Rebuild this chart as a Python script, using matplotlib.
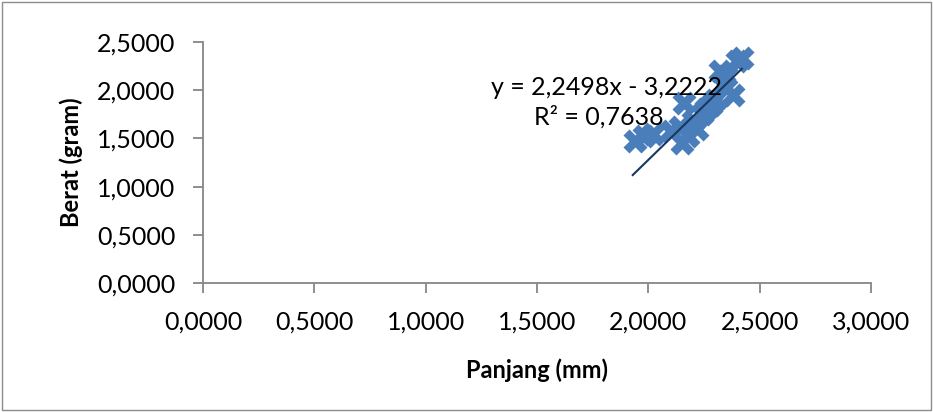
import numpy as np
import matplotlib.pyplot as plt
from matplotlib.ticker import FuncFormatter
from matplotlib.patches import Rectangle

plt.rcParams['font.family'] = ['Lato', 'DejaVu Sans']

# Data
panjang = [1.94, 1.98, 2.02, 2.10, 2.14, 2.15, 2.16, 2.18, 2.20, 2.22,
           2.24, 2.26, 2.28, 2.30, 2.32, 2.34, 2.35, 2.38, 2.40, 2.42]
berat = [1.47, 1.52, 1.55, 1.58, 1.62, 1.45, 1.87, 1.52, 1.68, 1.60,
         1.75, 1.80, 1.85, 1.90, 2.20, 2.05, 2.15, 1.95, 2.30, 2.33]
slope, intercept = 2.2498, -3.2222
r2 = 0.7638

fig = plt.figure(figsize=(9.33, 4.12), dpi=100)
fig.patches.append(Rectangle((0.002, 0.005), 0.996, 0.99, transform=fig.transFigure,
                             fill=False, edgecolor='#8c8c8c', linewidth=1))
ax = fig.add_axes([203/933, 1-283/412, 668/933, 241/412])

ax.scatter(panjang, berat, marker='X', s=300, color='#4a7ebb', linewidths=0, zorder=2)
xl = np.array([min(panjang) - 0.01, max(panjang)])
ax.plot(xl, slope*xl + intercept, color='#17375e', linewidth=1.5, zorder=3)

fmt = FuncFormatter(lambda v, p: f"{v:.4f}".replace('.', ','))
ax.set_xlim(0, 3)
ax.set_ylim(0, 2.5)
ax.set_xticks(np.arange(0, 3.01, 0.5))
ax.set_yticks(np.arange(0, 2.51, 0.5))
ax.xaxis.set_major_formatter(fmt)
ax.yaxis.set_major_formatter(fmt)
for s in ['top', 'right']:
    ax.spines[s].set_visible(False)
for s in ['left', 'bottom']:
    ax.spines[s].set_color('#868686')
    ax.spines[s].set_linewidth(1.3)
ax.tick_params(direction='out', length=7, width=1.3, color='#868686', labelsize=18, pad=13)

ax.set_xlabel('Panjang (mm)', fontsize=17, fontweight='bold', labelpad=18)
ax.set_ylabel('Berat (gram)', fontsize=17, fontweight='bold', labelpad=10)

ax.text(2.33, 2.03, f"y = {slope:.4f}x - {abs(intercept):.4f}".replace('.', ','),
        ha='right', va='center', fontsize=18, zorder=4)
ax.text(2.07, 1.72, f"R² = {r2:.4f}".replace('.', ','),
        ha='right', va='center', fontsize=18, zorder=4)

fig.savefig('out.png', dpi=100)
